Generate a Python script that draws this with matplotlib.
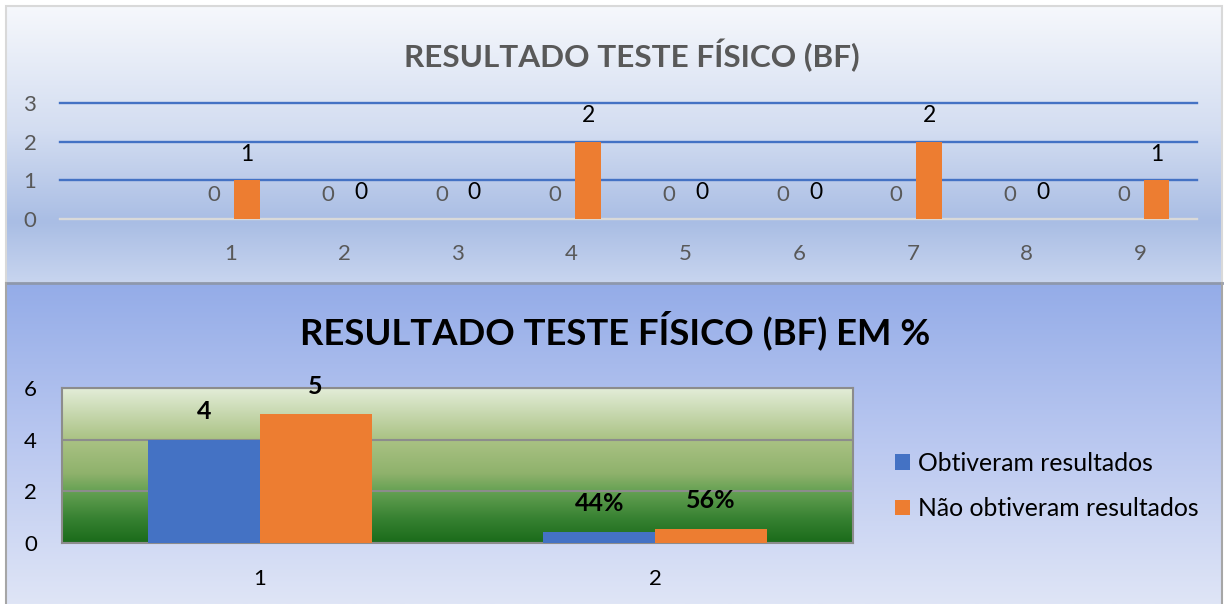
import numpy as np
import matplotlib
matplotlib.use("Agg")
import matplotlib.pyplot as plt
from matplotlib.colors import LinearSegmentedColormap
from matplotlib.patches import Patch, Rectangle

plt.rcParams['font.family'] = ['Lato', 'DejaVu Sans']

# ---------------- data ----------------
top_title = "RESULTADO TESTE FÍSICO (BF)"
top_categories = [1, 2, 3, 4, 5, 6, 7, 8, 9]
top_blue = [0, 0, 0, 0, 0, 0, 0, 0, 0]
top_orange = [1, 0, 0, 2, 0, 0, 2, 0, 1]
top_yticks = [0, 1, 2, 3]

bot_title = "RESULTADO TESTE FÍSICO (BF) EM %"
bot_categories = [1, 2]
bot_blue = [4, 0.44]
bot_orange = [5, 0.56]
bot_blue_labels = ["4", "44%"]
bot_orange_labels = ["5", "56%"]
bot_yticks = [0, 2, 4, 6]
series_names = ["Obtiveram resultados", "Não obtiveram resultados"]

BLUE = "#4472c4"
ORANGE = "#ed7d31"

W, H = 1226, 604
fig = plt.figure(figsize=(W / 100, H / 100), dpi=100)
fig.patch.set_facecolor("white")

def fx(px):
    return px / W

def fy(py):
    return 1 - py / H

# ---------------- background ----------------
bg = fig.add_axes([0, 0, 1, 1], zorder=-10)
bg.axis("off")

def vgrad(stops):
    cmap = LinearSegmentedColormap.from_list("g", stops)
    return cmap(np.linspace(0, 1, 256))[:, None, :]

top_bg = vgrad([(0.0, "#f6f8fc"), (0.45, "#d3ddf1"), (0.78, "#a9bde4"), (1.0, "#c8d5ef")])
bg.imshow(top_bg, extent=(6, 1222, 283, 6), aspect="auto", interpolation="bilinear")
bot_bg = vgrad([(0.0, "#94ace8"), (0.5, "#bac8f0"), (1.0, "#dfe5f6")])
bg.imshow(bot_bg, extent=(6, 1222, 604, 283), aspect="auto", interpolation="bilinear")
bg.add_patch(Rectangle((6, 6), 1216, 277, fill=False, edgecolor="#d9d9d9", lw=1.5))
bg.plot([6, 1222], [283, 283], color="#8e98ad", lw=2)
bg.plot([6, 6], [283, 604], color="#a6a6a6", lw=1.5)
bg.plot([1222, 1222], [283, 604], color="#a6a6a6", lw=1.5)
bg.set_xlim(0, W)
bg.set_ylim(H, 0)

# ---------------- top chart ----------------
ax1 = fig.add_axes([fx(60), fy(219), fx(1197) - fx(60), fy(103) - fy(219)])
ax1.set_facecolor("none")
x1 = np.array(top_categories, dtype=float)
bw1 = 0.225
off1 = 0.145
ax1.bar(x1 - off1, top_blue, width=bw1, color=BLUE, zorder=3)
ax1.bar(x1 + off1, top_orange, width=bw1, color=ORANGE, zorder=3)
ax1.set_xlim(-0.5, 9.5)
ax1.set_ylim(0, 3)
ax1.set_yticks(top_yticks)
ax1.set_xticks(top_categories)
ax1.tick_params(axis="both", length=0, labelsize=16, labelcolor="#595959")
ax1.tick_params(axis="y", pad=17)
ax1.tick_params(axis="x", pad=18)
for s in ax1.spines.values():
    s.set_visible(False)
ax1.yaxis.grid(True, color=BLUE, lw=1.7, zorder=1)
ax1.set_axisbelow(True)
for gl in ax1.get_ygridlines():
    gl.set_clip_on(False)
ax1.get_ygridlines()[0].set_color("#d9d9d9")
for xi, v in zip(x1, top_blue):
    ax1.annotate(str(v), (xi - off1, v), xytext=(0, 17.3), textcoords="offset points",
                 ha="center", va="center", fontsize=16, color="#595959")
for xi, v in zip(x1, top_orange):
    ax1.annotate(str(v), (xi + off1, v), xytext=(0, 18.8), textcoords="offset points",
                 ha="center", va="center", fontsize=16.5, color="black")

t1 = fig.text(fx(632), fy(55), top_title, ha="center", va="center",
              fontsize=22, fontweight="bold", color="#595959")

# ---------------- bottom chart ----------------
ax2 = fig.add_axes([fx(62), fy(543), fx(853) - fx(62), fy(388) - fy(543)])
green = vgrad([(0.0, "#e3edd8"), (0.33, "#aac284"), (0.55, "#8fb26c"),
               (0.67, "#64a052"), (0.85, "#358030"), (1.0, "#1a6b1a")])
ax2.imshow(green, extent=(0.5, 2.5, 0, 6), aspect="auto", interpolation="bilinear", zorder=0)
x2 = np.array(bot_categories, dtype=float)
bw2 = 0.283
ax2.bar(x2 - bw2 / 2, bot_blue, width=bw2, color=BLUE, zorder=3)
ax2.bar(x2 + bw2 / 2, bot_orange, width=bw2, color=ORANGE, zorder=3)
ax2.set_xlim(0.5, 2.5)
ax2.set_ylim(0, 6)
ax2.set_yticks(bot_yticks)
ax2.set_xticks(bot_categories)
ax2.tick_params(axis="both", length=0, labelsize=16, labelcolor="black")
ax2.tick_params(axis="y", pad=18)
ax2.tick_params(axis="x", pad=19)
ax2.yaxis.grid(True, color="#8c8c8c", lw=1.5, zorder=1)
for s in ax2.spines.values():
    s.set_color("#8c8c8c")
    s.set_linewidth(1.5)
for xi, v, lab in zip(x2, bot_blue, bot_blue_labels):
    ax2.annotate(lab, (xi - bw2 / 2, v), xytext=(0, 20), textcoords="offset points",
                 ha="center", va="center", fontsize=18, fontweight="bold", color="black")
for xi, v, lab in zip(x2, bot_orange, bot_orange_labels):
    ax2.annotate(lab, (xi + bw2 / 2, v), xytext=(0, 20), textcoords="offset points",
                 ha="center", va="center", fontsize=18, fontweight="bold", color="black")

t2 = fig.text(fx(615), fy(330), bot_title, ha="center", va="center",
              fontsize=27, fontweight="bold", color="black")

handles = [Patch(facecolor=BLUE, edgecolor="none"), Patch(facecolor=ORANGE, edgecolor="none")]
leg = fig.legend(handles, series_names, loc="center left",
                 bbox_to_anchor=(fx(895), fy(486)), frameon=False, fontsize=17.8,
                 handlelength=0.62, handleheight=0.6, handletextpad=0.3,
                 labelspacing=0.9, borderpad=0, borderaxespad=0)

# fit title widths to reference
fig.canvas.draw()
r = fig.canvas.get_renderer()
for t, target in [(t1, 455), (t2, 630)]:
    w = t.get_window_extent(r).width
    t.set_fontsize(t.get_fontsize() * target / w)

fig.savefig("out.png", dpi=100, facecolor=fig.get_facecolor())
